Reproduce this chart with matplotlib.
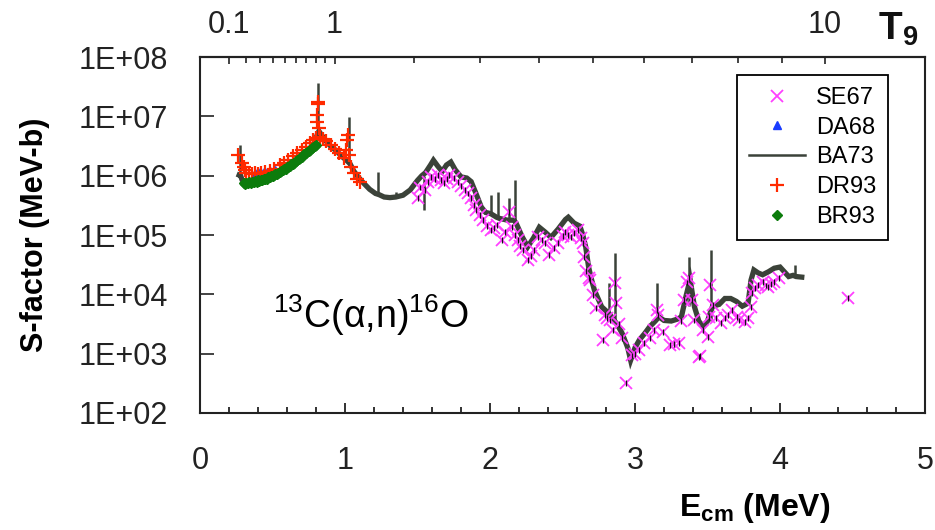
import numpy as np
import matplotlib
matplotlib.use("Agg")
import matplotlib.pyplot as plt
from matplotlib.lines import Line2D
from matplotlib.ticker import FixedLocator, MultipleLocator, LogLocator, NullFormatter, FixedFormatter

plt.rcParams['font.family'] = ['Liberation Sans', 'DejaVu Sans']
plt.rcParams['mathtext.default'] = 'regular'

# ---------------- data (E in MeV, values as log10 of S-factor in MeV-b) ----------------
ba73_E = [0.27, 0.28, 0.29, 0.30, 0.33, 0.36, 0.40, 0.45, 0.50, 0.55, 0.60, 0.65, 0.70, 0.75, 0.79,
          0.81, 0.82, 0.84, 0.87, 0.90, 0.94, 0.98, 1.01, 1.035, 1.06, 1.09, 1.13, 1.17, 1.21, 1.235,
          1.27, 1.31, 1.35, 1.40, 1.45, 1.50, 1.53, 1.555, 1.59, 1.61, 1.64, 1.67, 1.70, 1.73, 1.76,
          1.80, 1.84, 1.87, 1.90, 1.94, 1.97, 2.005, 2.045, 2.065, 2.12, 2.14, 2.165, 2.18, 2.22, 2.26,
          2.30, 2.34, 2.38, 2.42, 2.47, 2.52, 2.54, 2.58, 2.62, 2.64, 2.66, 2.68, 2.70, 2.72, 2.77,
          2.81, 2.83, 2.86, 2.875, 2.91, 2.95, 2.97, 3.00, 3.03, 3.07, 3.10, 3.14, 3.165, 3.20, 3.25,
          3.29, 3.32, 3.35, 3.38, 3.41, 3.44, 3.47, 3.50, 3.535, 3.58, 3.62, 3.66, 3.70, 3.74, 3.78,
          3.80, 3.82, 3.85, 3.88, 3.92, 3.96, 4.00, 4.03, 4.06, 4.09, 4.11, 4.15]
ba73_logS = [6.01, 6.00, 5.93, 5.90, 5.89, 5.90, 5.93, 5.97, 6.02, 6.08, 6.15, 6.23, 6.32, 6.44, 6.56,
             6.70, 6.75, 6.68, 6.58, 6.50, 6.42, 6.32, 6.26, 6.20, 6.08, 5.98, 5.87, 5.77, 5.70, 5.68,
             5.64, 5.63, 5.64, 5.67, 5.76, 5.92, 6.00, 6.05, 6.18, 6.26, 6.16, 6.07, 6.18, 6.23, 6.10,
             5.98, 5.96, 5.90, 5.72, 5.47, 5.38, 5.36, 5.30, 5.28, 5.25, 5.25, 5.25, 5.20, 4.98, 4.80,
             4.95, 5.13, 5.05, 4.96, 5.10, 5.26, 5.30, 5.20, 5.15, 5.00, 4.80, 4.46, 4.25, 4.07, 3.79,
             3.70, 3.65, 3.55, 3.50, 3.35, 3.10, 2.89, 3.10, 3.23, 3.35, 3.45, 3.55, 3.62, 3.56, 3.55,
             3.58, 3.62, 3.95, 4.25, 3.79, 3.55, 3.45, 3.55, 3.80, 3.83, 3.93, 3.93, 3.88, 3.80, 3.85,
             4.24, 4.41, 4.36, 4.33, 4.38, 4.44, 4.46, 4.38, 4.30, 4.32, 4.30, 4.29]

# narrow resonance spikes / error bars of BA73
ba73_spike_E = [0.275, 0.815, 1.025, 1.225, 1.35, 1.545, 2.01, 2.055, 2.13, 2.17, 2.82, 2.865,
                3.155, 3.37, 3.525, 4.10]
ba73_spike_top = [6.52, 7.56, 6.99, 6.06, 5.72, 5.99, 5.67, 5.72, 5.62, 5.93, 4.19, 4.69,
                  4.19, 4.63, 4.75, 4.50]
ba73_spike_bot = [5.98, 6.72, 6.22, 5.69, 5.64, 5.42, 5.36, 5.29, 5.25, 5.22, 3.70, 3.52,
                  3.60, 3.80, 3.55, 4.30]

se67_E = [1.50, 1.52, 1.55, 1.57, 1.59, 1.62, 1.64, 1.66, 1.68, 1.70, 1.72, 1.75, 1.78, 1.80, 1.83,
          1.85, 1.87, 1.89, 1.90, 1.93, 1.95, 1.98, 2.01, 2.03, 2.05, 2.08, 2.10, 2.13, 2.15, 2.17,
          2.19, 2.21, 2.23, 2.26, 2.28, 2.30, 2.33, 2.36, 2.38, 2.41, 2.44, 2.47, 2.50, 2.52, 2.54,
          2.56, 2.58, 2.61, 2.63, 2.64, 2.65, 2.66, 2.68, 2.69, 2.71, 2.73, 2.78, 2.79, 2.81, 2.83,
          2.85, 2.86, 2.87, 2.89, 2.91, 2.94, 2.98, 3.00, 3.03, 3.06, 3.10, 3.13, 3.15, 3.16, 3.19,
          3.24, 3.27, 3.30, 3.32, 3.34, 3.36, 3.37, 3.39, 3.41, 3.44, 3.45, 3.47, 3.50, 3.51, 3.52,
          3.54, 3.56, 3.59, 3.62, 3.64, 3.67, 3.70, 3.72, 3.76, 3.78, 3.80, 3.81, 3.83, 3.85, 3.88,
          3.90, 3.92, 3.94, 3.96, 3.99, 4.47]
se67_logS = [5.62, 5.80, 5.76, 5.90, 5.98, 5.95, 6.01, 5.93, 5.87, 5.95, 6.01, 5.96, 5.89, 5.82, 5.76,
             5.70, 5.62, 5.50, 5.42, 5.33, 5.25, 5.15, 5.08, 5.12, 5.17, 4.91, 5.05, 5.39, 5.13, 5.00,
             4.91, 4.82, 4.75, 4.58, 4.65, 4.75, 4.96, 4.92, 4.86, 4.66, 4.78, 4.86, 4.98, 5.05, 5.00,
             4.96, 5.04, 5.08, 4.95, 4.86, 4.63, 4.40, 4.28, 4.24, 3.99, 3.77, 3.23, 3.65, 3.60, 3.56,
             3.40, 4.19, 3.85, 3.50, 3.26, 2.50, 2.97, 3.00, 3.06, 3.18, 3.26, 3.40, 3.73, 3.65, 3.37,
             3.14, 3.16, 3.18, 3.55, 3.90, 4.20, 4.27, 3.90, 3.56, 2.94, 2.96, 3.40, 3.28, 3.62, 4.16,
             3.82, 3.60, 3.51, 3.60, 3.65, 3.73, 3.62, 3.56, 3.54, 3.60, 3.78, 4.02, 4.10, 4.16, 4.21,
             4.15, 4.12, 4.18, 4.21, 4.27, 3.94]
se67_rel_err = 0.12

da68_E = [0.38, 0.40, 0.42, 0.44, 0.46, 0.48, 0.50, 0.52]
da68_logS = [6.04, 6.06, 6.05, 6.07, 6.06, 6.08, 6.07, 6.09]

dr93_E = [0.265, 0.29, 0.30, 0.31, 0.32, 0.34, 0.36, 0.38, 0.40, 0.42, 0.45, 0.48, 0.51, 0.55, 0.58,
          0.61, 0.64, 0.67, 0.70, 0.73, 0.76, 0.78, 0.80, 0.805, 0.81, 0.812, 0.815, 0.82, 0.83, 0.85,
          0.87, 0.90, 0.93, 0.96, 0.99, 1.01, 1.015, 1.02, 1.03, 1.04, 1.06, 1.08, 1.10]
dr93_logS = [6.35, 6.22, 6.14, 6.10, 6.04, 6.05, 6.03, 6.04, 6.03, 6.05, 6.06, 6.08, 6.12, 6.18, 6.22,
             6.26, 6.33, 6.38, 6.43, 6.49, 6.55, 6.60, 6.63, 6.90, 7.02, 7.24, 7.20, 6.80, 6.66, 6.62,
             6.58, 6.52, 6.45, 6.38, 6.30, 6.43, 6.60, 6.68, 6.35, 6.14, 6.05, 5.95, 5.90]

br93_E = [0.30, 0.31, 0.32, 0.33, 0.34, 0.35, 0.36, 0.37, 0.38, 0.39, 0.40, 0.41, 0.42, 0.43, 0.44,
          0.45, 0.46, 0.47, 0.48, 0.49, 0.50, 0.51, 0.52, 0.53, 0.54, 0.55, 0.56, 0.57, 0.58, 0.59,
          0.60, 0.61, 0.62, 0.63, 0.64, 0.65, 0.66, 0.67, 0.68, 0.69, 0.70, 0.71, 0.72, 0.73, 0.74,
          0.75, 0.76, 0.77, 0.78, 0.79, 0.80]
br93_logS = [5.87, 5.86, 5.88, 5.87, 5.89, 5.88, 5.90, 5.89, 5.91, 5.90, 5.92, 5.91, 5.93, 5.92, 5.94,
             5.95, 5.95, 5.97, 5.97, 5.99, 6.00, 6.01, 6.02, 6.03, 6.05, 6.06, 6.08, 6.09, 6.11, 6.12,
             6.14, 6.15, 6.17, 6.19, 6.20, 6.22, 6.24, 6.26, 6.28, 6.30, 6.32, 6.34, 6.36, 6.38, 6.40,
             6.42, 6.44, 6.46, 6.48, 6.50, 6.52]

x_ticks = [0, 1, 2, 3, 4, 5]
y_ticks = [1e2, 1e3, 1e4, 1e5, 1e6, 1e7, 1e8]
y_ticklabels = ['1E+02', '1E+03', '1E+04', '1E+05', '1E+06', '1E+07', '1E+08']
t9_major = [0.1, 1, 10]
t9_major_labels = ['0.1', '1', '10']
t9_minor = [0.2, 0.3, 0.4, 0.5, 0.6, 0.7, 0.8, 0.9, 2, 3, 4, 5, 6, 7, 8, 9]
gamow_coef = 0.928  # E0 [MeV] = 0.928 * T9^(2/3) for 13C + alpha

# ---------------- colours ----------------
c_ba73 = '#3b4239'
c_se67 = '#ff40ff'
c_da68 = '#1a3cff'
c_dr93 = '#ff2a00'
c_br93 = '#0c7c0c'

def pw(v):
    return 10.0 ** np.asarray(v, dtype=float)

fig = plt.figure(figsize=(9.35, 5.3), dpi=100)
ax = fig.add_axes([200 / 935, 1 - 413 / 530, 725 / 935, 356 / 530])

ax.set_yscale('log')
ax.set_xlim(0, 5)
ax.set_ylim(1e2, 1e8)

# BA73 curve
ax.plot(ba73_E, pw(ba73_logS), color=c_ba73, lw=3.8, solid_joinstyle='miter', zorder=2)
ax.vlines(ba73_spike_E, pw(ba73_spike_bot), pw(ba73_spike_top), color=c_ba73, lw=1.8, zorder=2)

# SE67
se_S = pw(se67_logS)
ax.plot(se67_E, se_S, ls='none', marker='x', ms=8, mew=1.3, color=c_se67, zorder=3)
ax.errorbar(se67_E, se_S, yerr=[se_S * se67_rel_err / (1 + se67_rel_err), se_S * se67_rel_err],
            fmt='none', ecolor='#111111', elinewidth=0.9, capsize=0, zorder=4)

# DA68
ax.plot(da68_E, pw(da68_logS), ls='none', marker='^', ms=6, color=c_da68, zorder=5)
# DR93
ax.plot(dr93_E, pw(dr93_logS), ls='none', marker='+', ms=10, mew=1.6, color=c_dr93, zorder=6)
# BR93
ax.plot(br93_E, pw(br93_logS), ls='none', marker='D', ms=5.5, color=c_br93, zorder=7)

# ---------------- axes styling ----------------
for s in ax.spines.values():
    s.set_linewidth(1.5)
    s.set_color('#222222')

ax.xaxis.set_major_locator(FixedLocator(x_ticks))
ax.xaxis.set_minor_locator(MultipleLocator(0.2))
ax.yaxis.set_major_locator(FixedLocator(y_ticks))
ax.yaxis.set_major_formatter(FixedFormatter(y_ticklabels))
ax.yaxis.set_minor_locator(LogLocator(base=10, subs=np.arange(2, 10)))
ax.yaxis.set_minor_formatter(NullFormatter())

ax.tick_params(axis='x', which='both', direction='in', top=False, bottom=True,
               labelsize=22, pad=24, colors='#222222', width=1.3)
ax.tick_params(axis='x', which='major', length=7)
ax.tick_params(axis='x', which='minor', length=4.5)
ax.tick_params(axis='y', which='both', direction='in', left=True, right=False,
               labelsize=22, pad=23, colors='#222222', width=1.2)
ax.tick_params(axis='y', which='major', length=10)
ax.tick_params(axis='y', which='minor', length=5.5)

# top temperature axis
def e_to_t9(e):
    e = np.clip(np.asarray(e, dtype=float), 1e-9, None)
    return (e / gamow_coef) ** 1.5

def t9_to_e(t):
    t = np.clip(np.asarray(t, dtype=float), 0, None)
    return gamow_coef * t ** (2.0 / 3.0)

sec = ax.secondary_xaxis('top', functions=(e_to_t9, t9_to_e))
sec.xaxis.set_major_locator(FixedLocator(t9_major))
sec.xaxis.set_major_formatter(FixedFormatter(t9_major_labels))
sec.xaxis.set_minor_locator(FixedLocator(t9_minor))
sec.xaxis.set_minor_formatter(NullFormatter())
sec.tick_params(axis='x', which='both', direction='in', labelsize=22, pad=12,
                colors='#222222', width=1.2)
sec.tick_params(axis='x', which='major', length=5)
sec.tick_params(axis='x', which='minor', length=4)
sec.spines['top'].set_linewidth(1.5)

fig.text(878 / 935, 1 - 40 / 530, r'T$_9$', fontsize=28, fontweight='bold', color='#111111',
         ha='left', va='baseline')

# labels
ax.set_xlabel(r'E$_{cm}$ (MeV)', fontsize=23, fontweight='bold', va='center')
ax.xaxis.set_label_coords((755 - 200) / 725, (413 - 508) / 356)
ax.set_ylabel('S-factor (MeV-b)', fontsize=22, fontweight='bold', va='center')
ax.yaxis.set_label_coords((35 - 200) / 725, 0.5)

ax.text((273 - 200) / 725, (413 - 328) / 356, r'$^{13}$C(α,n)$^{16}$O', transform=ax.transAxes,
        fontsize=27, ha='left', va='baseline', color='black')

# legend
handles = [
    Line2D([], [], ls='none', marker='x', ms=8, mew=1.3, color=c_se67),
    Line2D([], [], ls='none', marker='^', ms=6, color=c_da68),
    Line2D([], [], ls='-', lw=1.8, color=c_ba73),
    Line2D([], [], ls='none', marker='+', ms=10, mew=1.6, color=c_dr93),
    Line2D([], [], ls='none', marker='D', ms=5.5, color=c_br93),
]
labels = ['SE67', 'DA68', 'BA73', 'DR93', 'BR93']
leg = ax.legend(handles, labels, loc='upper right', bbox_to_anchor=(888 / 935, 1 - 75 / 530),
                bbox_transform=fig.transFigure, borderaxespad=0, fontsize=17, frameon=True,
                fancybox=False, edgecolor='black', framealpha=1, borderpad=0.5,
                handlelength=2.4, handletextpad=0.45, labelspacing=0.33)
leg.get_frame().set_linewidth(1.3)

fig.savefig('out.png', dpi=100)
